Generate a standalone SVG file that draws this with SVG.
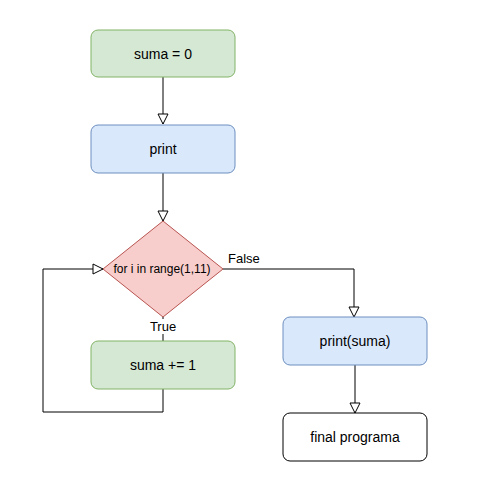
<svg xmlns="http://www.w3.org/2000/svg" width="488" height="493" viewBox="0 0 488 493">
<defs>
<marker id="arr" viewBox="0 0 12 12" refX="11" refY="6" markerWidth="12" markerHeight="12" markerUnits="userSpaceOnUse" orient="auto">
<path d="M1,1 L11,6 L1,11 Z" fill="#ffffff" stroke="#000000" stroke-width="1"/>
</marker>
<style>
.t{font-family:"Liberation Sans",Arial,sans-serif;font-size:14px;fill:#000000;text-anchor:middle;dominant-baseline:central}
.s{font-size:12px}
.l{font-family:"Liberation Sans",Arial,sans-serif;font-size:13px;fill:#000000}
.green{fill:#d5e8d4;stroke:#82b366;stroke-width:1}
.blue{fill:#dae8fc;stroke:#6c8ebf;stroke-width:1}
.red{fill:#f8cecc;stroke:#b85450;stroke-width:1}
.white{fill:#ffffff;stroke:#000000;stroke-width:1}
.c{fill:none;stroke:#000000;stroke-width:1}
</style>
</defs>
<rect width="488" height="493" fill="#ffffff"/>
<g id="connectors">
<path class="c" d="M163,77 L163,124" marker-end="url(#arr)"/>
<path class="c" d="M163,173 L163,221" marker-end="url(#arr)"/>
<path class="c" d="M223,269 L354,269 L354,317" marker-end="url(#arr)"/>
<path class="c" d="M355,365 L355,413" marker-end="url(#arr)"/>
<path class="c" d="M163,317 L163,341"/>
<path class="c" d="M163,389 L163,412 L43,412 L43,269 L103,269" marker-end="url(#arr)"/>
<rect x="146" y="319" width="34" height="15" fill="#ffffff"/>
<text class="l" x="163" y="331" text-anchor="middle">True</text>
<text class="l" x="228" y="263">False</text>
</g>
<g id="n1">
<rect class="green" x="91" y="30" width="144" height="47" rx="7"/>
<text class="t" x="163" y="53.5">suma = 0</text>
</g>
<g id="n2">
<rect class="blue" x="91" y="125" width="144" height="48" rx="7"/>
<text class="t" x="163" y="149">print</text>
</g>
<g id="n3">
<path class="red" d="M163,221 L223,269 L163,317 L103,269 Z"/>
<text class="t s" x="162" y="269">for i in range(1,11)</text>
</g>
<g id="n4">
<rect class="green" x="91" y="341" width="144" height="48" rx="7"/>
<text class="t" x="163" y="365">suma += 1</text>
</g>
<g id="n5">
<rect class="blue" x="283" y="317" width="144" height="48" rx="7"/>
<text class="t" x="355" y="341">print(suma)</text>
</g>
<g id="n6">
<rect class="white" x="283" y="413" width="144" height="48" rx="7"/>
<text class="t" x="355" y="437">final programa</text>
</g>
</svg>
